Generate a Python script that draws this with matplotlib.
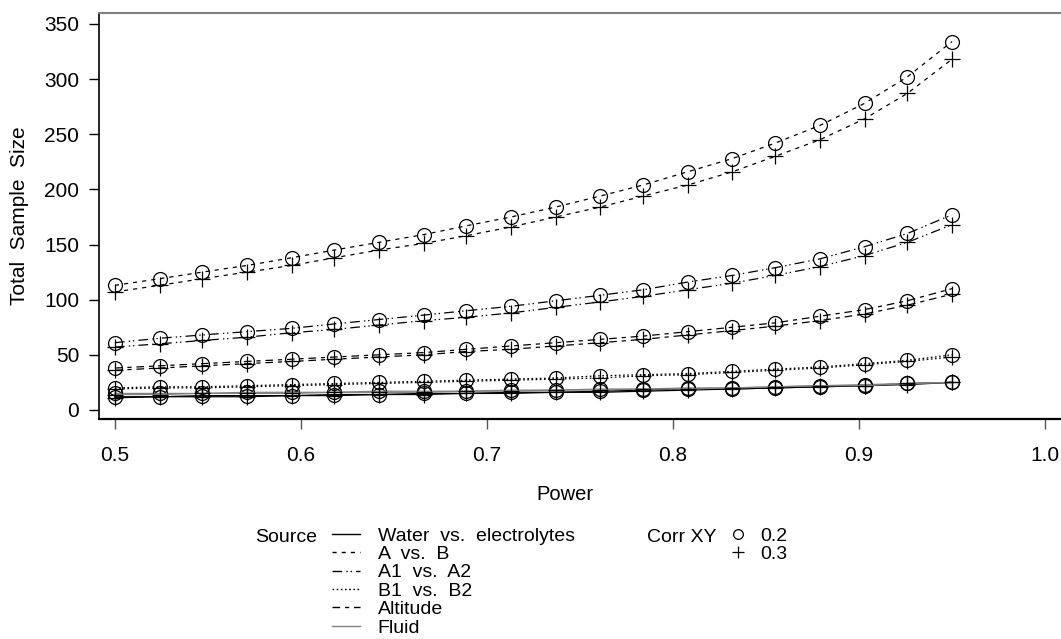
import matplotlib
matplotlib.use("Agg")
import matplotlib.pyplot as plt
from matplotlib.lines import Line2D

plt.rcParams['font.family'] = ['Liberation Sans', 'DejaVu Sans']
plt.rcParams['lines.scale_dashes'] = False

W, H = 1061, 639

# power grid (x)
power = [0.5, 0.524, 0.547, 0.571, 0.595, 0.618, 0.642, 0.666, 0.689, 0.713,
         0.737, 0.761, 0.784, 0.808, 0.832, 0.855, 0.879, 0.903, 0.926, 0.95]

# total sample size; _02 -> corr 0.2, _03 -> corr 0.3
water_02 = [12, 12, 13, 13, 13, 14, 14, 15, 15, 16, 16, 17, 18, 19, 19, 20, 21, 22, 24, 25]
water_03 = [11, 12, 12, 12, 13, 13, 14, 14, 15, 15, 16, 16, 17, 18, 19, 20, 21, 22, 23, 25]
ab_02 = [113, 119, 125, 131, 138, 145, 152, 159, 167, 175, 184, 194, 204, 216, 228, 242, 258, 278, 302, 334]
ab_03 = [107, 113, 119, 125, 131, 138, 145, 151, 158, 166, 175, 184, 194, 204, 216, 230, 245, 264, 287, 318]
a1a2_02 = [61, 65, 68, 71, 74, 78, 82, 86, 90, 94, 99, 104, 109, 116, 122, 129, 137, 148, 160, 177]
a1a2_03 = [57, 60, 63, 66, 70, 73, 77, 81, 84, 88, 93, 98, 103, 109, 115, 122, 130, 140, 152, 168]
b1b2_02 = [20, 21, 21, 22, 23, 24, 25, 26, 27, 28, 29, 31, 32, 33, 35, 37, 39, 42, 45, 50]
b1b2_03 = [19, 20, 20, 21, 22, 23, 24, 25, 26, 27, 28, 29, 31, 32, 34, 36, 38, 41, 44, 48]
alt_02 = [38, 40, 42, 44, 46, 48, 50, 52, 55, 58, 61, 64, 67, 71, 75, 79, 85, 91, 99, 110]
alt_03 = [36, 38, 40, 42, 44, 46, 48, 50, 53, 55, 58, 61, 64, 68, 72, 76, 81, 87, 95, 105]
fluid_02 = [15, 15, 15, 16, 16, 16, 17, 17, 17, 18, 18, 19, 19, 20, 20, 21, 22, 23, 24, 25]
fluid_03 = [14, 14, 15, 15, 15, 16, 16, 16, 17, 17, 18, 18, 19, 19, 20, 21, 22, 22, 24, 25]

sources = ["Water  vs.  electrolytes", "A  vs.  B", "A1  vs.  A2", "B1  vs.  B2", "Altitude", "Fluid"]
corr_labels = ["0.2", "0.3"]
series = [(water_02, water_03), (ab_02, ab_03), (a1a2_02, a1a2_03),
          (b1b2_02, b1b2_03), (alt_02, alt_03), (fluid_02, fluid_03)]

styles = [dict(color='black', ls='-'),
          dict(color='black', ls=(0, (3, 3.6))),
          dict(color='black', ls=(0, (7, 3, 1, 2, 1, 3))),
          dict(color='black', ls=(0, (1.2, 1.8))),
          dict(color='black', ls=(0, (5.5, 3.5, 3, 3.5))),
          dict(color='#808080', ls='-')]
markers = [dict(marker='o', ms=10, mfc='none'), dict(marker='+', ms=11.5)]

fig = plt.figure(figsize=(W / 100, H / 100), dpi=100)
x0, x1, ytop, ybot = 99.3, W, 12.7, 419
ax = fig.add_axes([x0 / W, 1 - ybot / H, (x1 - x0) / W, (ybot - ytop) / H])

for (s02, s03), st in zip(series, styles):
    for vals, mk in zip((s02, s03), markers):
        ax.plot(power, vals, lw=0.9, mec='black', mew=0.9, **st, **mk)

ax.set_xlim(0.4916, 0.5 + (W - 115) / 1860)
ax.set_ylim(-8.2, 360.2)
ax.set_xticks([0.5, 0.6, 0.7, 0.8, 0.9, 1.0])
ax.set_xticklabels(["0.5", "0.6", "0.7", "0.8", "0.9", "1.0"])
ax.set_yticks(range(0, 351, 50))

ax.spines['right'].set_visible(False)
ax.spines['top'].set_color('#808080')
ax.spines['top'].set_linewidth(1.5)
ax.spines['left'].set_linewidth(1.2)
ax.spines['bottom'].set_linewidth(1.6)
ax.tick_params(axis='both', direction='out', length=7.5, width=1, labelsize=15, colors='black')
ax.tick_params(axis='x', pad=12, color='#555555')
ax.tick_params(axis='y', pad=7)

fig.text(565 / W, 1 - 494 / H, "Power", ha='center', va='center', fontsize=14.5)
fig.text(20 / W, 1 - 216 / H, "Total  Sample  Size", ha='center', va='center',
         rotation=90, fontsize=15)

# legend: Source
fs = 14
src_handles = [Line2D([], [], lw=1, **st) for st in styles]
fig.legend(src_handles, sources, loc='upper left', bbox_to_anchor=(332 / W, 1 - 527 / H),
           frameon=False, fontsize=fs, handlelength=1.45, handletextpad=0.9,
           labelspacing=0.04, borderpad=0, borderaxespad=0)
fig.text(255 / W, 1 - 537 / H, "Source", ha='left', va='center', fontsize=fs)

corr_handles = [Line2D([], [], ls='none', color='black', mec='black', mew=0.9,
                       marker=m['marker'], mfc='none', ms=7 if m['marker'] == 'o' else 8)
                for m in markers]
fig.legend(corr_handles, corr_labels, loc='upper left', bbox_to_anchor=(729 / W, 1 - 527 / H),
           frameon=False, fontsize=fs, handlelength=0.9, handletextpad=0.7,
           labelspacing=0.04, borderpad=0, borderaxespad=0)
fig.text(647 / W, 1 - 537 / H, "Corr XY", ha='left', va='center', fontsize=fs)

fig.savefig("out.png", dpi=100)
